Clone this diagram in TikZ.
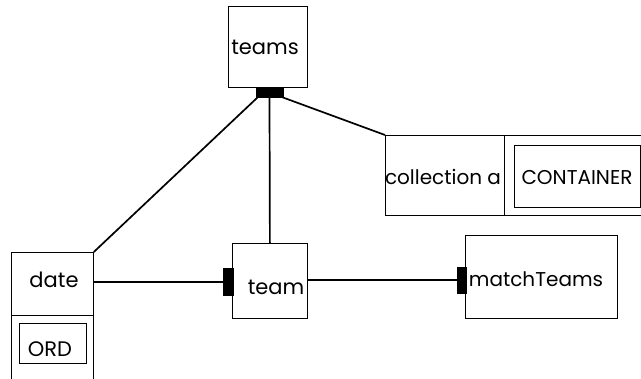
\documentclass[tikz,border=0pt]{standalone}
\usepackage{fontspec}
\setmainfont{Poppins}
\usepackage{tikz}

\begin{document}
\begin{tikzpicture}[
    x=1pt, y=-1pt,
    box/.style={draw, line width=0.8pt, inner sep=0pt, anchor=north west},
    bar/.style={fill=black, draw=black, inner sep=0pt},
    link/.style={draw, line width=1.7pt},
    lbl/.style={anchor=base, inner sep=0pt, font=\fontsize{21}{24}\selectfont},
]
\clip (0,0) rectangle (641,379);

% Kasten
\node[box, minimum width=79pt, minimum height=81pt] (teams) at (228,6) {};
\node[box, minimum width=75pt, minimum height=75pt] (team) at (232,243) {};
\node[box, minimum width=152pt, minimum height=83pt] (match) at (465,235) {};
\node[box, minimum width=82pt, minimum height=63pt] (date) at (11,252) {};
\node[box, minimum width=82pt, minimum height=90pt] (dateord) at (11,315) {};
\node[box, minimum width=67pt, minimum height=40pt] (ord) at (19,323) {};
\node[box, minimum width=119pt, minimum height=80pt] (coll) at (385,135) {};
\node[box, minimum width=170pt, minimum height=80pt] (collcont) at (504,135) {};
\node[box, minimum width=126pt, minimum height=62pt] (cont) at (514,145) {};

% Beschriftung
\node[lbl] (teams-lbl) at (265,55) {teams};
\node[lbl] (team-lbl) at (276,295) {team};
\node[lbl, font=\fontsize{20}{24}\selectfont] (match-lbl) at (536,287) {matchTeams};
\node[lbl] (date-lbl) at (54,288) {date};
\node[lbl] (ord-lbl) at (50,357) {ORD};
\node[lbl, font=\fontsize{20}{24}\selectfont] (coll-lbl) at (443,185) {collection a};
\node[lbl, font=\fontsize{20}{24}\selectfont] (cont-lbl) at (577,185) {CONTAINER};

% Balken
\node[bar, minimum width=27pt, minimum height=10pt] (teams-bar) at (269.5,92) {};
\node[bar, minimum width=10pt, minimum height=27pt] (team-bar) at (228,282) {};
\node[bar, minimum width=9pt, minimum height=26pt] (match-bar) at (461.5,280) {};

% Verbindungen
\draw[link] ([xshift=2pt]teams-bar.south west) -- (date.north east);
\draw[link] (teams-bar.south) -- (team.north);
\draw[link] ([xshift=-1pt]teams-bar.south east) -- (coll.north west);
\draw[link] (date.east |- team-bar.west) -- (team-bar.west);
\draw[link] (team.east |- match-bar.west) -- (match-bar.west);

\end{tikzpicture}
\end{document}
